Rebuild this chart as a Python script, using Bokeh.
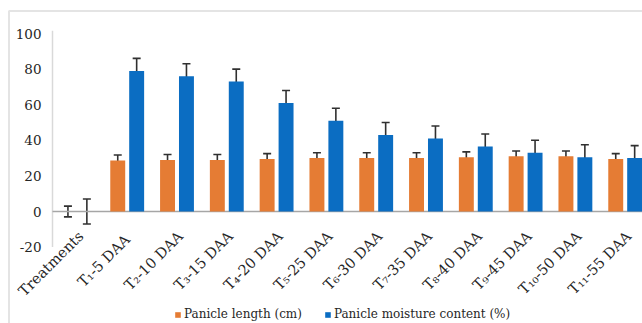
import numpy as np
from bokeh.plotting import figure
from bokeh.models import (ColumnDataSource, Whisker, TeeHead, Legend, LegendItem, BoxAnnotation)
from bokeh.transform import dodge
from bokeh.core.properties import value
from bokeh.embed import file_html
from bokeh.resources import INLINE

# ---- data ----
categories = ["Treatments", "T\u2081-5  DAA", "T\u2082-10 DAA", "T\u2083-15 DAA", "T\u2084-20 DAA",
              "T\u2085-25 DAA", "T\u2086-30 DAA", "T\u2087-35 DAA", "T\u2088-40 DAA",
              "T\u2089-45 DAA", "T\u2081\u2080-50 DAA", "T\u2081\u2081-55 DAA"]
panicle_length = [0, 28.7, 29.0, 29.0, 29.5, 30.0, 30.0, 30.0, 30.5, 31.0, 31.0, 29.5]
panicle_length_err = [3, 3, 3, 3, 3, 3, 3, 3, 3, 3, 3, 3]
moisture = [0, 79.0, 76.0, 73.0, 61.0, 51.0, 43.0, 41.0, 36.5, 33.0, 30.5, 30.0]
moisture_err = [7, 7, 7, 7, 7, 7, 7, 7, 7, 7, 7, 7]
y_ticks = [-20, 0, 20, 40, 60, 80, 100]
y_tick_labels = ["-20", "0", "20", "40", "60", "80", "100"]

idx = list(range(len(categories)))
src = ColumnDataSource(dict(
    idx=idx, cat=categories,
    plen=panicle_length,
    plen_lo=[v - e for v, e in zip(panicle_length, panicle_length_err)],
    plen_hi=[v + e for v, e in zip(panicle_length, panicle_length_err)],
    moist=moisture,
    moist_lo=[v - e for v, e in zip(moisture, moisture_err)],
    moist_hi=[v + e for v, e in zip(moisture, moisture_err)],
))

ORANGE = "#E57C34"
BLUE = "#0B6DC2"
TXT = "#262626"
SERIF = "DejaVu Serif"

W, H = 642, 323
PX_CAT = 49.8      # pixels per category
PX_Y = 1.78        # pixels per y unit
AX_X, ZERO_Y = 52, 211
X0 = -0.5 - AX_X / PX_CAT
X1 = -0.5 + (W - AX_X) / PX_CAT
Y1 = ZERO_Y / PX_Y
Y0 = -(H - ZERO_Y) / PX_Y

p = figure(width=W, height=H, output_backend="svg", toolbar_location=None,
           x_range=(X0, X1), y_range=(Y0, Y1),
           min_border_left=0, min_border_right=0, min_border_top=0, min_border_bottom=0)
p.xaxis.visible = False
p.yaxis.visible = False
p.xgrid.visible = False
p.ygrid.visible = False
p.outline_line_color = None
p.background_fill_color = "white"
p.border_fill_color = "white"

# chart-area border (left and top edges visible)
p.add_layout(BoxAnnotation(left=X0 + 8.5 / PX_CAT, right=X1 + 5, top=Y1 - 10.5 / PX_Y, bottom=Y0 - 50,
                           fill_alpha=0, line_color="#a6a6a6", line_width=2))

# y axis line + zero line
cat_lo = idx[0] - 0.5
cat_hi = idx[-1] + 0.5
p.segment(x0=[cat_lo], y0=[y_ticks[0]], x1=[cat_lo], y1=[y_ticks[-1] + 1.5], line_color="#d9d9d9", line_width=1.5)
p.segment(x0=[cat_lo], y0=[0], x1=[cat_hi], y1=[0], line_color="#a6a6a6", line_width=1.5)

# y tick labels
p.text(x=[cat_lo - 11 / PX_CAT] * len(y_ticks), y=y_ticks, text=y_tick_labels,
       text_align="right", text_baseline="middle", text_font=value(SERIF),
       text_font_size="13.5px", text_color=TXT)

r1 = p.vbar(x=dodge("idx", -0.19, range=p.x_range), top="plen", width=0.30, bottom=0,
            source=src, fill_color=ORANGE, line_color=None)
r2 = p.vbar(x=dodge("idx", 0.19, range=p.x_range), top="moist", width=0.30, bottom=0,
            source=src, fill_color=BLUE, line_color=None)

for base, lo, hi in [(dodge("idx", -0.19, range=p.x_range), "plen_lo", "plen_hi"),
                     (dodge("idx", 0.19, range=p.x_range), "moist_lo", "moist_hi")]:
    w = Whisker(source=src, base=base, lower=lo, upper=hi, line_color="#303030", line_width=1.6,
                upper_head=TeeHead(size=8, line_color="#303030", line_width=1.6),
                lower_head=TeeHead(size=8, line_color="#303030", line_width=1.6))
    p.add_layout(w)

# category labels (rotated 45 degrees)
p.text(x=dodge("idx", 0.07, range=p.x_range), y=-12.5, text="cat", source=src,
       angle=np.pi / 4, angle_units="rad",
       text_align="right", text_baseline="middle", text_font=value(SERIF), text_font_size="14.5px",
       text_color=TXT)

legend = Legend(items=[LegendItem(label="Panicle length (cm)", renderers=[r1]),
                       LegendItem(label="Panicle moisture content (%)", renderers=[r2])],
                location=(174, 2), orientation="horizontal")
legend.padding = 0
legend.margin = 0
legend.spacing = 22
legend.glyph_width = 7
legend.glyph_height = 7
legend.label_standoff = 3
legend.label_height = 14
legend.label_text_font = SERIF
legend.label_text_font_size = "12px"
legend.label_text_color = TXT
legend.border_line_color = None
legend.background_fill_alpha = 0
p.add_layout(legend, "center")

open("out.html", "w").write(file_html(p, INLINE))
